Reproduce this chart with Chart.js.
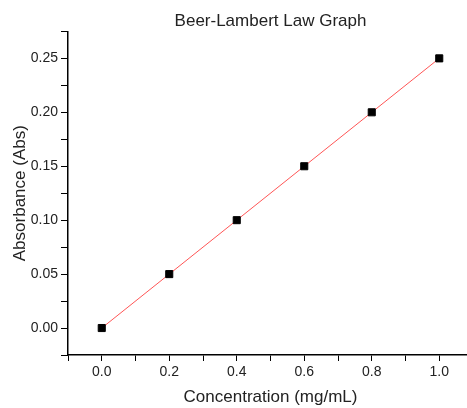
<!DOCTYPE html>
<html>
<head>
<meta charset="utf-8">
<script src="https://cdn.jsdelivr.net/npm/chart.js@4"></script>
<style>
  html, body { margin: 0; padding: 0; overflow: hidden; background: #fff; }
  #wrap { width: 480px; height: 408px; }
</style>
</head>
<body>
<div id="wrap"><canvas id="chart"></canvas></div>
<script>
// data
const concentration = [0.0, 0.2, 0.4, 0.6, 0.8, 1.0];
const absorbance = [0.00, 0.05, 0.10, 0.15, 0.20, 0.25];

const xRange = [-0.1, 1.1];
const yRange = [-0.025, 0.275];

const points = concentration.map((c, i) => ({ x: c, y: absorbance[i] }));

const textColor = '#222';
const fontFamily = '"Liberation Sans", Arial, sans-serif';

// centre the title over the plot area instead of the whole canvas
const titleOverPlot = {
  id: 'titleOverPlot',
  afterLayout(chart) {
    if (chart.titleBlock) {
      chart.titleBlock.left = chart.chartArea.left;
      chart.titleBlock.right = chart.chartArea.right;
    }
  }
};

new Chart(document.getElementById('chart'), {
  type: 'scatter',
  data: {
    datasets: [{
      data: points,
      showLine: true,
      borderColor: '#ff5555',
      borderWidth: 1,
      pointStyle: 'rect',
      pointRadius: 5,
      pointBackgroundColor: '#000',
      pointBorderColor: '#000',
      pointBorderWidth: 1
    }]
  },
  plugins: [titleOverPlot],
  options: {
    responsive: true,
    maintainAspectRatio: false,
    animation: false,
    layout: { padding: { left: 0, right: 7, top: 0, bottom: 0 } },
    plugins: {
      legend: { display: false },
      tooltip: { enabled: false },
      title: {
        display: true,
        text: 'Beer-Lambert Law Graph',
        color: textColor,
        font: { family: fontFamily, size: 17, weight: 'normal' },
        padding: { top: 11, bottom: 0 }
      }
    },
    scales: {
      x: {
        type: 'linear',
        min: xRange[0],
        max: xRange[1],
        afterFit: (s) => { s.height = 53; },
        border: { display: true, color: '#000', width: 1.5 },
        grid: { drawOnChartArea: false, drawTicks: true, tickLength: 6, color: '#000' },
        ticks: {
          stepSize: 0.1,
          color: textColor,
          padding: 3,
          maxRotation: 0,
          autoSkip: false,
          font: { family: fontFamily, size: 14 },
          callback: (v) => {
            const n = Math.round(v * 10);
            return (n % 2 === 0 && n >= 0 && n <= 10) ? (n / 10).toFixed(1) : '';
          }
        },
        title: {
          display: true,
          text: 'Concentration (mg/mL)',
          color: textColor,
          font: { family: fontFamily, size: 17 },
          padding: { top: 4, bottom: 0 }
        }
      },
      y: {
        type: 'linear',
        min: yRange[0],
        max: yRange[1],
        afterFit: (s) => { s.width = 68; },
        border: { display: true, color: '#000', width: 1.5 },
        grid: { drawOnChartArea: false, drawTicks: true, tickLength: 7, color: '#000' },
        ticks: {
          stepSize: 0.025,
          color: textColor,
          padding: 3,
          autoSkip: false,
          font: { family: fontFamily, size: 14 },
          callback: (v) => {
            const n = Math.round(v * 40);
            return (n % 2 === 0 && n >= 0 && n <= 10) ? (n / 40).toFixed(2) : '';
          }
        },
        title: {
          display: true,
          text: 'Absorbance (Abs)',
          color: textColor,
          font: { family: fontFamily, size: 17 },
          padding: { top: 10, bottom: 0 }
        }
      }
    }
  }
});
</script>
</body>
</html>
